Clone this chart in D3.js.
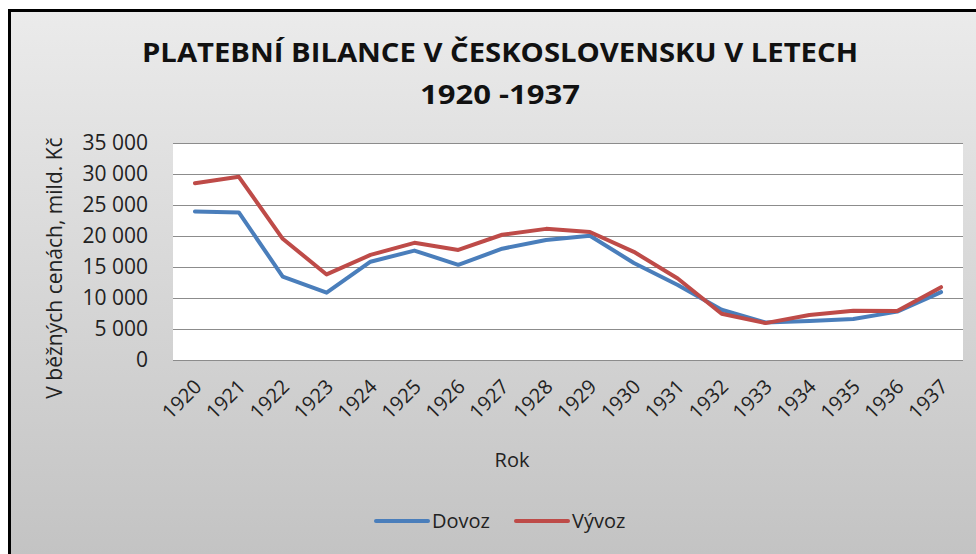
<!DOCTYPE html>
<html>
<head>
<meta charset="utf-8">
<script src="https://cdnjs.cloudflare.com/ajax/libs/d3/7.8.5/d3.min.js"></script>
<style>
  body { margin: 0; background: #fff; }
  svg { display: block; font-family: "Open Sans", sans-serif; }
</style>
</head>
<body>
<svg id="chart" width="976" height="554"></svg>
<script>
// data (mld. Kč)
const years = ["1920","1921","1922","1923","1924","1925","1926","1927","1928","1929",
  "1930","1931","1932","1933","1934","1935","1936","1937"]
const dovoz = [23950, 23800, 13450, 10850, 15850, 17650, 15350, 17950, 19350, 20050,
  15650, 12100, 8100, 6050, 6300, 6600, 7800, 10950]
const vyvoz = [28500, 29550, 19550, 13800, 16950, 18900, 17750, 20200, 21150, 20650,
  17450, 13150, 7450, 5950, 7250, 7950, 7900, 11750]
const yTicks = [0, 5000, 10000, 15000, 20000, 25000, 30000, 35000]
const seriesNames = ["Dovoz", "Vývoz"]
const colors = ["#4a7ebb", "#be4b48"]

const svg = d3.select("#chart")
const width = 976
const height = 554
const margin = { left: 173, right: 13, top: 143, bottom: 194 }

const defs = svg.append("defs")
const grad = defs.append("linearGradient")
  .attr("id", "bg")
  .attr("x1", 0).attr("y1", 0).attr("x2", 0).attr("y2", 1)
grad.append("stop").attr("offset", "0%").attr("stop-color", "#ebebeb")
grad.append("stop").attr("offset", "100%").attr("stop-color", "#bfbfbf")

// chart area with thick black frame, running off the right and bottom edges
svg.append("rect")
  .attr("x", 9.5).attr("y", 10.5)
  .attr("width", 1000).attr("height", 600)
  .attr("fill", "url(#bg)")
  .attr("stroke", "#000")
  .attr("stroke-width", 3)

const x = d3.scaleBand()
  .domain(years)
  .range([margin.left, width - margin.right])

const y = d3.scaleLinear()
  .domain([0, 35000])
  .range([height - margin.bottom, margin.top])

// plot area
svg.append("rect")
  .attr("x", margin.left)
  .attr("y", margin.top)
  .attr("width", width - margin.right - margin.left)
  .attr("height", height - margin.bottom - margin.top)
  .attr("fill", "#fff")

const fmt = v => d3.format(",")(v).replace(",", " ")

// y axis: gridlines + labels
svg.append("g")
  .attr("transform", `translate(${margin.left},0)`)
  .call(d3.axisLeft(y).tickValues(yTicks).tickFormat(fmt)
    .tickSize(-(width - margin.right - margin.left)).tickPadding(25))
  .call(g => g.select(".domain").remove())
  .call(g => g.selectAll(".tick line").attr("stroke", "#8c8c8c").attr("stroke-width", 1.2))
  .call(g => g.selectAll(".tick text")
    .attr("font-size", 21)
    .attr("fill", "#222")
    .attr("font-family", "Open Sans"))

// x axis labels rotated
svg.append("g")
  .selectAll("text")
  .data(years)
  .join("text")
  .attr("transform", d => `translate(${x(d) + x.bandwidth() / 2 + 3},383) rotate(-45)`)
  .attr("text-anchor", "end")
  .attr("dy", "0.35em")
  .attr("font-size", 20)
  .attr("fill", "#222")
  .text(d => d)

// lines
const line = d3.line()
  .x((d, i) => x(years[i]) + x.bandwidth() / 2)
  .y(d => y(d))

svg.append("g")
  .selectAll("path")
  .data([dovoz, vyvoz])
  .join("path")
  .attr("fill", "none")
  .attr("stroke", (d, i) => colors[i])
  .attr("stroke-width", 4)
  .attr("stroke-linejoin", "round")
  .attr("stroke-linecap", "round")
  .attr("d", line)

// titles
svg.append("text")
  .attr("x", 500).attr("y", 62)
  .attr("text-anchor", "middle")
  .attr("font-size", 27)
  .attr("font-weight", "bold")
  .attr("fill", "#111")
  .attr("textLength", 716)
  .attr("lengthAdjust", "spacingAndGlyphs")
  .text("PLATEBNÍ BILANCE V ČESKOSLOVENSKU V LETECH")

svg.append("text")
  .attr("x", 500).attr("y", 104)
  .attr("text-anchor", "middle")
  .attr("font-size", 27)
  .attr("font-weight", "bold")
  .attr("fill", "#111")
  .attr("textLength", 160)
  .attr("lengthAdjust", "spacingAndGlyphs")
  .text("1920 -1937")

svg.append("text")
  .attr("transform", "translate(55,268) rotate(-90)")
  .attr("text-anchor", "middle")
  .attr("dy", "0.35em")
  .attr("font-size", 21)
  .attr("fill", "#222")
  .text("V běžných cenách, mild. Kč")

svg.append("text")
  .attr("x", 512).attr("y", 460)
  .attr("text-anchor", "middle")
  .attr("dy", "0.35em")
  .attr("font-size", 20)
  .attr("fill", "#222")
  .text("Rok")

// legend
const legend = svg.append("g")
  .selectAll("g")
  .data(seriesNames)
  .join("g")
  .attr("transform", (d, i) => `translate(${376 + i * 140},521)`)

legend.append("line")
  .attr("x1", 0).attr("x2", 52)
  .attr("stroke", (d, i) => colors[i])
  .attr("stroke-width", 4)
  .attr("stroke-linecap", "round")

legend.append("text")
  .attr("x", 56)
  .attr("dy", "0.35em")
  .attr("font-size", 20)
  .attr("fill", "#222")
  .text(d => d)
</script>
</body>
</html>
